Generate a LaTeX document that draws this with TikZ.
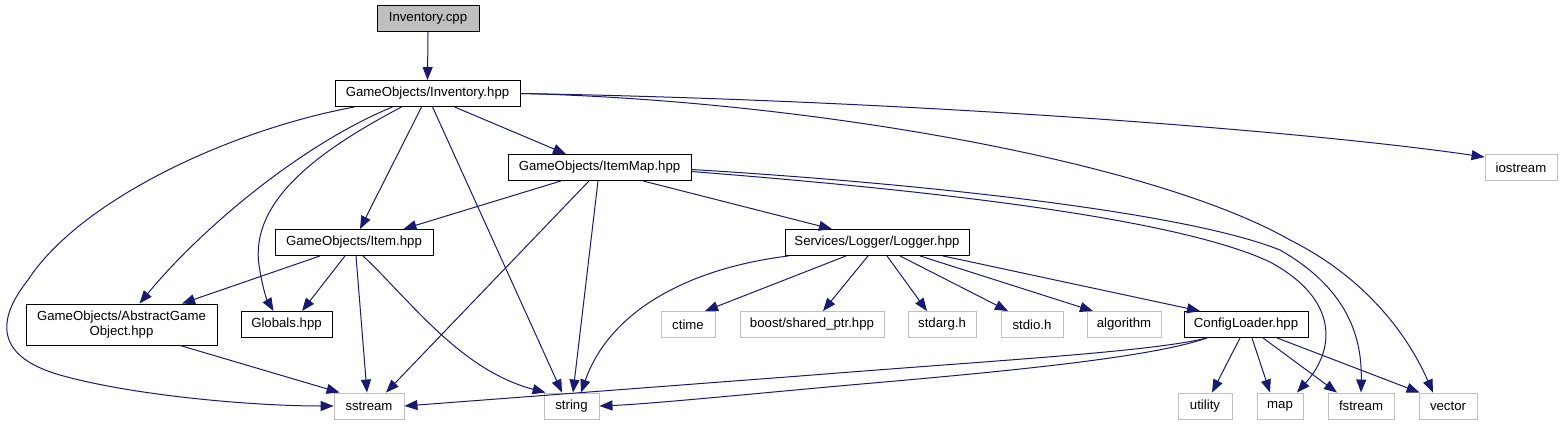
\documentclass[tikz,border=0pt]{standalone}
\usepackage{fontspec}
\setmainfont{Liberation Sans}
\usetikzlibrary{arrows.meta}
\definecolor{edgeblue}{HTML}{191970}
\definecolor{graybd}{HTML}{BFBFBF}
\begin{document}
\begin{tikzpicture}[x=1pt,y=-1pt,
  every node/.style={font=\fontsize{13.2}{15}\selectfont, inner sep=0pt, align=center},
  box/.style={draw=black, fill=white, line width=0.9pt, minimum height=26pt},
  ext/.style={draw=graybd, fill=white, line width=0.9pt, minimum height=26pt},
  edge/.style={draw=edgeblue, line width=1pt, -{Triangle[length=13pt,width=10pt]}}]
\useasboundingbox (0,0) rectangle (1563,425);
% nodes
\node[box, fill=graybd, minimum width=102pt] (cpp) at (428,18.5) {Inventory.cpp};
\node[box, minimum width=185pt] (inv) at (427.5,93.5) {GameObjects/Inventory.hpp};
\node[box, minimum width=183pt] (imap) at (599.5,167.5) {GameObjects/ItemMap.hpp};
\node[ext, minimum width=72pt] (iostream) at (1521,167.5) {iostream};
\node[box, minimum width=158pt] (item) at (354,242.5) {GameObjects/Item.hpp};
\node[box, minimum width=184pt] (logger) at (877,242.5) {Services/Logger/Logger.hpp};
\node[box, minimum width=191pt, minimum height=41pt] (ago) at (121.5,324.5) {GameObjects/AbstractGame\\Object.hpp};
\node[box, minimum width=91pt] (globals) at (286.5,324.5) {Globals.hpp};
\node[ext, minimum width=54pt] (ctime) at (688,324.5) {ctime};
\node[ext, minimum width=144pt] (boost) at (812,324.5) {boost/shared\_ptr.hpp};
\node[ext, minimum width=68pt] (stdarg) at (942,324.5) {stdarg.h};
\node[ext, minimum width=62pt] (stdio) at (1032,324.5) {stdio.h};
\node[ext, minimum width=74pt] (algorithm) at (1124,324.5) {algorithm};
\node[box, minimum width=124pt] (config) at (1246,324.5) {ConfigLoader.hpp};
\node[ext, minimum width=70pt] (sstream) at (369,406) {sstream};
\node[ext, minimum width=55pt] (string) at (571.5,406) {string};
\node[ext, minimum width=54pt] (utility) at (1205,406) {utility};
\node[ext, minimum width=46pt] (map) at (1280,406) {map};
\node[ext, minimum width=66pt] (fstream) at (1361,406) {fstream};
\node[ext, minimum width=58pt] (vector) at (1448,406) {vector};
% edges
\draw[edge] (cpp.south) -- (inv.north);
% from Inventory.hpp
\draw[edge] ([xshift=20pt]inv.south west) .. controls (230,130) and (80,200) .. (28,280)
  .. controls (0,315) and (-10,355) .. (60,375) .. controls (130,395) and (250,406) .. (sstream.west);
\draw[edge] ([xshift=58pt]inv.south west) .. controls (300,145) and (200,230) .. ([xshift=18pt]ago.north);
\draw[edge] ([xshift=67pt]inv.south west) .. controls (320,150) and (250,200) .. (259,265)
  .. controls (262,285) and (266,298) .. ([xshift=-13pt]globals.north);
\draw[edge] ([xshift=87pt]inv.south west) -- ([xshift=6pt]item.north);
\draw[edge] ([xshift=98pt]inv.south west) -- ([xshift=-9.5pt]string.north);
\draw[edge] ([xshift=120pt]inv.south west) -- ([xshift=-33.5pt]imap.north);
\draw[edge] (inv.east) .. controls (900,100) and (1300,130) .. ([yshift=-3pt]iostream.north west);
\draw[edge] (inv.east) .. controls (800,100) and (1150,160) .. (1290,240)
  .. controls (1370,280) and (1410,340) .. ([xshift=-15pt]vector.north);
% from ItemMap.hpp
\draw[edge] ([xshift=-38.5pt]imap.south) -- ([xshift=-30pt]item.north east);
\draw[edge] ([xshift=-10.5pt]imap.south) -- ([xshift=17pt]sstream.north);
\draw[edge] ([xshift=-1.5pt]imap.south) -- ([xshift=1.5pt]string.north);
\draw[edge] ([xshift=43.5pt]imap.south) -- ([xshift=-45pt]logger.north);
\draw[edge] ([yshift=-4pt]imap.east) .. controls (900,188) and (1170,215) .. (1270,262)
  .. controls (1340,300) and (1335,350) .. ([xshift=17pt]map.north);
\draw[edge] ([yshift=-2pt]imap.east) .. controls (900,182) and (1180,210) .. (1280,250)
  .. controls (1350,290) and (1362,340) .. (fstream.north);
% from Item.hpp
\draw[edge] ([xshift=-34pt]item.south) -- ([xshift=60.5pt]ago.north);
\draw[edge] ([xshift=-9pt]item.south) -- ([xshift=15.5pt]globals.north);
\draw[edge] ([xshift=2pt]item.south) -- ([xshift=-2pt]sstream.north);
\draw[edge] ([xshift=9pt]item.south) .. controls (410,300) and (460,370) .. ([xshift=2pt]string.north west);
% from AbstractGameObject.hpp
\draw[edge] ([xshift=58.5pt]ago.south) -- ([xshift=6pt]sstream.north west);
% from Logger.hpp
\draw[edge] ([xshift=4pt]logger.south west) .. controls (690,268) and (610,310) .. ([xshift=9.5pt]string.north);
\draw[edge] ([xshift=-31pt]logger.south) -- ([xshift=17pt]ctime.north);
\draw[edge] ([xshift=-9pt]logger.south) -- ([xshift=11pt]boost.north);
\draw[edge] ([xshift=10pt]logger.south) -- ([xshift=-15pt]stdarg.north);
\draw[edge] ([xshift=23pt]logger.south) -- ([xshift=-24pt]stdio.north);
\draw[edge] ([xshift=43pt]logger.south) -- ([xshift=-31pt]algorithm.north);
\draw[edge] ([xshift=66pt]logger.south) -- ([xshift=-46pt]config.north);
% from ConfigLoader.hpp
\draw[edge] ([xshift=-39pt]config.south) .. controls (1150,352) and (1000,360) .. (800,376) -- (sstream.east);
\draw[edge] ([xshift=-39pt]config.south) .. controls (1150,358) and (1000,372) .. (850,385)
  .. controls (750,394) and (650,404) .. (string.east);
\draw[edge] ([xshift=-6pt]config.south) -- ([xshift=7pt]utility.north);
\draw[edge] ([xshift=6pt]config.south) -- ([xshift=-10pt]map.north);
\draw[edge] ([xshift=17pt]config.south) -- ([xshift=-24pt]fstream.north);
\draw[edge] ([xshift=31pt]config.south) -- ([xshift=1pt]vector.north west);
\end{tikzpicture}
\end{document}
